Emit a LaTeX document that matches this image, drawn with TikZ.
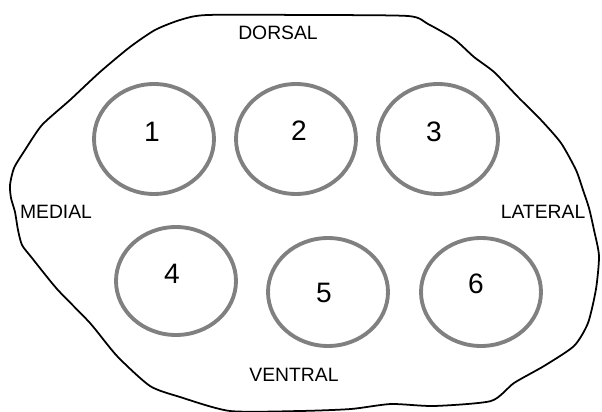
\documentclass[tikz,border=0pt]{standalone}
\usepackage{fontspec}
\setmainfont{Liberation Sans}
\usepackage{tikz}

\begin{document}
\begin{tikzpicture}[x=0.02cm,y=-0.02cm]
			\useasboundingbox (0,0) rectangle (602,412);
			% outline
			\draw[line width=1pt] plot[smooth cycle,tension=0.4] coordinates {
				(207,15) (308,15) (408,16) (428,24) (454,39) (474,57) (494,72)
				(518,97) (541,120) (561,143) (576,170) (583,190) (589,208)
				(594,230) (599,256) (596,289) (588,323) (574,346) (544,366) (514,383)
				(491,401) (434,406) (391,404) (351,409) (300,411) (230,411)
				(180,397) (150,386) (117,356) (90,323) (57,289) (32,258)
				(22,245) (18,230) (15,212) (11,198) (10,185) (14,168) (25,150) (42,125)
				(70,100) (100,72) (130,47) (155,30) (180,20)};

			\draw[gray,line width=2.2pt] (154,139) ellipse [x radius=1.2cm, y radius=1.1cm];
			\draw[gray,line width=2.2pt] (296,139) ellipse [x radius=1.2cm, y radius=1.1cm];
			\draw[gray,line width=2.2pt] (438,139) ellipse [x radius=1.2cm, y radius=1.1cm];
			\draw[gray,line width=2.2pt] (176,281) ellipse [x radius=1.2cm, y radius=1.08cm];
			\draw[gray,line width=2.2pt] (328,292) ellipse [x radius=1.2cm, y radius=1.08cm];
			\draw[gray,line width=2.2pt] (481,292) ellipse [x radius=1.2cm, y radius=1.08cm];

			\node[font=\fontsize{16}{18}\selectfont] (n1) at (152,132) {1};
			\node[font=\fontsize{16}{18}\selectfont] (n2) at (299,131) {2};
			\node[font=\fontsize{16}{18}\selectfont] (n3) at (434,132) {3};
			\node[font=\fontsize{16}{18}\selectfont] (n4) at (172,274) {4};
			\node[font=\fontsize{16}{18}\selectfont] (n5) at (324,293) {5};
			\node[font=\fontsize{16}{18}\selectfont] (n6) at (476,284) {6};

			\node[font=\fontsize{11}{13}\selectfont] (dorsal) at (278,33) {DORSAL};
			\node[font=\fontsize{11}{13}\selectfont] (medial) at (56,212) {MEDIAL};
			\node[font=\fontsize{11}{13}\selectfont] (lateral) at (543,212) {LATERAL};
			\node[font=\fontsize{11}{13}\selectfont] (ventral) at (294,375) {VENTRAL};
		\end{tikzpicture}
\end{document}
